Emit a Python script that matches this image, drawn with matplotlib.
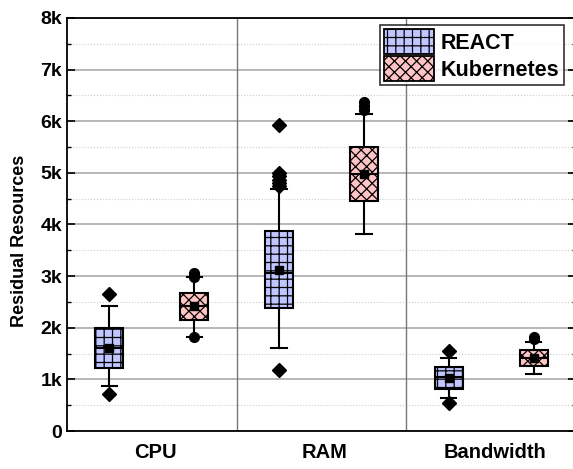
import numpy as np
import matplotlib.pyplot as plt
from matplotlib.patches import Patch
from matplotlib.ticker import MultipleLocator, FuncFormatter

plt.rcParams['font.family'] = ['Liberation Sans', 'DejaVu Sans']
plt.rcParams['font.weight'] = 'bold'
plt.rcParams['hatch.linewidth'] = 0.9

categories = ['CPU', 'RAM', 'Bandwidth']
series = ['REACT', 'Kubernetes']

# box statistics per category (CPU, RAM, Bandwidth)
react_q1 = [1220, 2390, 810]
react_med = [1600, 3070, 1040]
react_q3 = [1990, 3870, 1240]
react_lo = [870, 1610, 630]
react_hi = [2420, 4680, 1420]
react_mean = [1600, 3110, 1020]
react_fliers = [[710, 2660],
                [1180, 4740, 4800, 4860, 4930, 4990, 5930],
                [550, 1550]]

kube_q1 = [2150, 4450, 1260]
kube_med = [2420, 4980, 1410]
kube_q3 = [2680, 5510, 1570]
kube_lo = [1820, 3820, 1100]
kube_hi = [2980, 6140, 1730]
kube_mean = [2420, 4980, 1410]
kube_fliers = [[1820, 2990, 3030, 3060],
               [6220, 6300, 6380],
               [1780, 1830]]


def make_stats(q1, med, q3, lo, hi, mean, fliers):
    return [dict(q1=q1[i], med=med[i], q3=q3[i], whislo=lo[i], whishi=hi[i],
                 mean=mean[i], fliers=fliers[i]) for i in range(len(q1))]


fig = plt.figure(figsize=(5.73, 4.69), dpi=100)
ax = fig.add_axes([67/573, 1-431/469, (576-67)/573, (431-18)/469])

xpos = np.arange(len(categories))
colors = ['#c0c6ff', '#ffc4c4']
hatches = ['++', 'xxx']
flier_markers = ['D', 'o']
offsets = [0.25, 0.75]
all_stats = [make_stats(react_q1, react_med, react_q3, react_lo, react_hi, react_mean, react_fliers),
             make_stats(kube_q1, kube_med, kube_q3, kube_lo, kube_hi, kube_mean, kube_fliers)]

for k in range(2):
    bp = ax.bxp(all_stats[k], positions=xpos + offsets[k], widths=0.165,
                patch_artist=True, showmeans=True, showfliers=True,
                capwidths=0.09,
                boxprops=dict(linewidth=1.5, edgecolor='black'),
                medianprops=dict(color='black', linewidth=1.5),
                whiskerprops=dict(color='black', linewidth=1.5),
                capprops=dict(color='black', linewidth=1.5),
                meanprops=dict(marker='s', markerfacecolor='black', markeredgecolor='black', markersize=6),
                flierprops=dict(marker=flier_markers[k], markerfacecolor='black',
                                markeredgecolor='black', markersize=7))
    for b in bp['boxes']:
        b.set_facecolor(colors[k])
        b.set_hatch(hatches[k])
    for item in bp['boxes'] + bp['medians'] + bp['whiskers'] + bp['caps'] + bp['means'] + bp['fliers']:
        item.set_zorder(3)

ax.set_xlim(0, 3)
ax.set_ylim(0, 8000)
ax.yaxis.set_major_locator(MultipleLocator(1000))
ax.yaxis.set_minor_locator(MultipleLocator(500))
ax.yaxis.set_major_formatter(FuncFormatter(lambda v, p: '0' if v == 0 else '%dk' % int(v/1000)))
ax.set_xticks(xpos + 0.52)
ax.set_xticklabels(categories, fontsize=14.5, fontweight='bold')
ax.tick_params(axis='x', length=0, pad=9)
ax.tick_params(axis='y', which='major', direction='in', length=6, width=1.2,
               left=True, right=True, labelsize=14)
ax.tick_params(axis='y', which='minor', direction='in', length=3, width=1,
               left=True, right=True)

ax.grid(axis='y', which='major', color='#aaaaaa', linewidth=1.2, zorder=0)
ax.grid(axis='y', which='minor', color='#cccccc', linewidth=0.8, linestyle=':', zorder=0)
ax.set_axisbelow(True)
for x in [1, 2]:
    ax.axvline(x, color='#777777', linewidth=1, zorder=1)
for s in ax.spines.values():
    s.set_linewidth(1.3)

ax.set_ylabel('Residual Resources', fontsize=13, fontweight='bold')
ax.yaxis.set_label_coords(-0.077, 0.46)

handles = [Patch(facecolor=colors[k], edgecolor='black', hatch=hatches[k], linewidth=1.3)
           for k in range(2)]
leg = fig.legend(handles, series, loc='upper right', bbox_to_anchor=(564/573, 1-25/469),
                 fontsize=15.5, frameon=True, fancybox=False, edgecolor='black',
                 handlelength=2.3, handleheight=1.4, labelspacing=0.1,
                 handletextpad=0.35, borderpad=0.2, borderaxespad=0)
leg.get_frame().set_linewidth(1.2)
for t in leg.get_texts():
    t.set_fontweight('bold')

fig.savefig('out.png', dpi=100)
